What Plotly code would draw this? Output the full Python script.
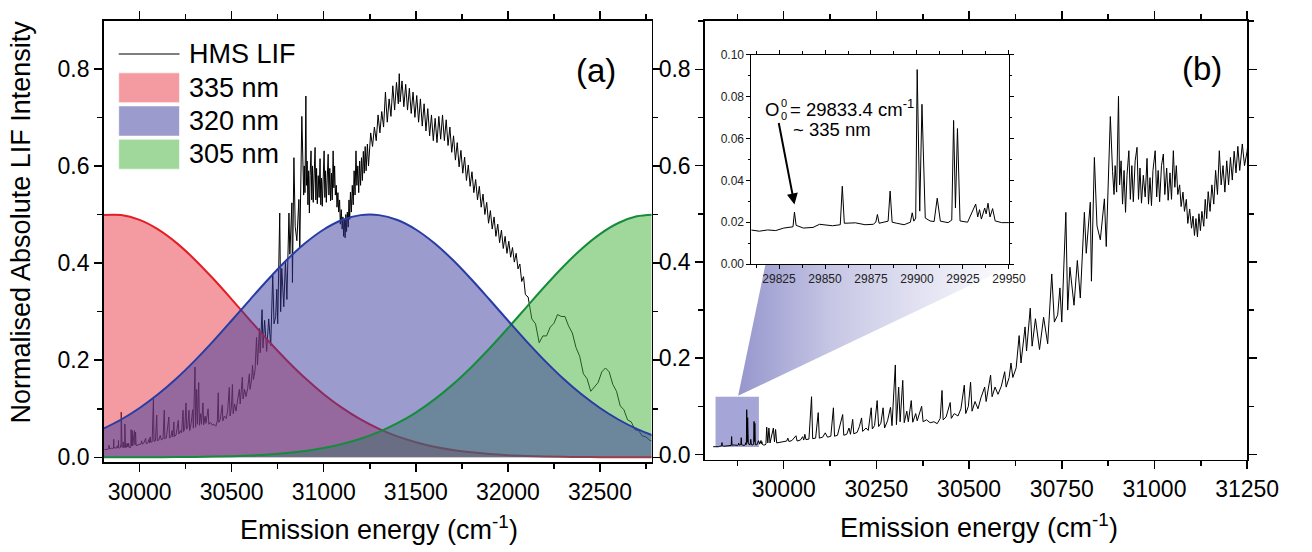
import plotly.graph_objects as go

FONT = "Liberation Sans, Arial, sans-serif"
W, H = 1312, 552

# ---------------- data ----------------
# HMS LIF spectrum, fine structure near the origin (inset region)
inset_energy = [29809.6, 29814.3, 29818.8, 29823.2, 29827.6, 29831.1, 29832.6, 29833.4, 29834.3, 29838.2,
                29843.5, 29847.0, 29854.1, 29858.3, 29859.4, 29860.5, 29866.5, 29871.8, 29876.2, 29877.6,
                29878.5, 29879.4, 29881.5, 29884.3, 29885.4, 29886.5, 29889.0, 29893.0, 29896.4, 29897.4,
                29898.3, 29899.3, 29900.1, 29901.5, 29902.7, 29904.5, 29907.1, 29909.3, 29911.0, 29912.7,
                29916.9, 29918.9, 29919.9, 29920.9, 29922.0, 29923.4, 29927.5, 29931.9, 29933.0, 29934.0,
                29935.0, 29936.8, 29937.6, 29938.6, 29939.7, 29941.1, 29942.5, 29946.0, 29949.9]
inset_lif = [0.0163, 0.0157, 0.0163, 0.0160, 0.0172, 0.0175, 0.0178, 0.0248, 0.0185, 0.0172,
             0.0175, 0.0190, 0.0183, 0.0188, 0.0372, 0.0195, 0.0197, 0.0188, 0.0190, 0.0200,
             0.0237, 0.0195, 0.0200, 0.0205, 0.0349, 0.0200, 0.0195, 0.0188, 0.0200, 0.0245,
             0.0205, 0.0220, 0.0930, 0.0253, 0.0764, 0.0220, 0.0206, 0.0203, 0.0315, 0.0205,
             0.0198, 0.0210, 0.0687, 0.0268, 0.0648, 0.0206, 0.0200, 0.0287, 0.0225, 0.0260,
             0.0215, 0.0268, 0.0240, 0.0291, 0.0225, 0.0265, 0.0206, 0.0198, 0.0198]

# HMS LIF spectrum, 29950 - 30885 cm-1 (panel b)
mid_energy = [29952, 29954, 29957, 29960, 29963, 29972, 29975, 29978, 29981, 29990,
              30000, 30008, 30011, 30014, 30022, 30033, 30036, 30045, 30051, 30054,
              30057, 30060, 30068, 30075, 30078, 30086, 30093, 30096, 30105, 30112,
              30118, 30127, 30134, 30137, 30145, 30159, 30162, 30170, 30176, 30180,
              30186, 30189, 30198, 30204, 30210, 30213, 30222, 30228, 30236, 30239,
              30245, 30252, 30256, 30262, 30268, 30272, 30280, 30288, 30292, 30301,
              30304, 30310, 30314, 30321, 30325, 30332, 30336, 30344, 30348, 30356,
              30360, 30372, 30376, 30385, 30395, 30405, 30414, 30422, 30427, 30430,
              30438, 30449, 30452, 30460, 30470, 30478, 30487, 30491, 30498, 30504,
              30508, 30516, 30524, 30532, 30542, 30546, 30558, 30562, 30570, 30578,
              30587, 30596, 30600, 30608, 30613, 30618, 30627, 30635, 30640, 30651,
              30655, 30665, 30670, 30679, 30690, 30701, 30712, 30723, 30730, 30739,
              30745, 30750, 30761, 30766, 30772, 30783, 30792, 30800, 30811, 30816,
              30827, 30830, 30838, 30845, 30854, 30865, 30870, 30881]
mid_lif = [0.022, 0.057, 0.024, 0.055, 0.024, 0.055, 0.026, 0.052, 0.024, 0.025,
           0.026, 0.028, 0.034, 0.027, 0.029, 0.039, 0.028, 0.030, 0.037, 0.030,
           0.042, 0.031, 0.032, 0.120, 0.033, 0.034, 0.087, 0.034, 0.036, 0.045,
           0.036, 0.038, 0.097, 0.038, 0.040, 0.083, 0.040, 0.042, 0.055, 0.042,
           0.073, 0.043, 0.046, 0.058, 0.076, 0.048, 0.055, 0.050, 0.097, 0.053,
           0.060, 0.112, 0.058, 0.065, 0.097, 0.055, 0.070, 0.098, 0.060, 0.186,
           0.062, 0.140, 0.068, 0.154, 0.066, 0.090, 0.068, 0.112, 0.067, 0.085,
           0.070, 0.100, 0.068, 0.072, 0.066, 0.068, 0.064, 0.075, 0.133, 0.072,
           0.078, 0.108, 0.075, 0.085, 0.080, 0.095, 0.144, 0.085, 0.100, 0.150,
           0.090, 0.110, 0.095, 0.118, 0.140, 0.110, 0.165, 0.120, 0.140, 0.125,
           0.142, 0.172, 0.140, 0.160, 0.190, 0.160, 0.180, 0.247, 0.190, 0.265,
           0.215, 0.304, 0.225, 0.282, 0.218, 0.285, 0.230, 0.375, 0.275, 0.290,
           0.346, 0.275, 0.503, 0.300, 0.389, 0.310, 0.403, 0.325, 0.503, 0.418,
           0.524, 0.360, 0.617, 0.475, 0.446, 0.531, 0.432, 0.702]

# HMS LIF spectrum, 30885 - 31250 cm-1 (plateau band, panel b)
plateau_energy = [30887, 30891, 30894, 30898, 30903, 30906, 30910, 30914, 30918, 30922,
                  30926, 30931, 30935, 30939, 30943, 30948, 30953, 30957, 30961, 30965,
                  30970, 30975, 30980, 30984, 30988, 30992, 30996, 31002, 31006, 31010,
                  31014, 31019, 31024, 31028, 31033, 31037, 31042, 31046, 31051, 31055,
                  31059, 31063, 31068, 31072, 31077, 31081, 31086, 31090, 31095, 31100,
                  31104, 31108, 31112, 31116, 31120, 31124, 31128, 31133, 31137, 31141,
                  31145, 31150, 31155, 31160, 31165, 31170, 31175, 31180, 31185, 31190,
                  31195, 31200, 31205, 31210, 31215, 31220, 31225, 31230, 31237, 31243,
                  31250]
plateau_lif = [0.588, 0.540, 0.600, 0.545, 0.744, 0.560, 0.610, 0.520, 0.590, 0.503,
               0.580, 0.631, 0.530, 0.600, 0.525, 0.610, 0.638, 0.530, 0.595, 0.522,
               0.580, 0.535, 0.615, 0.520, 0.575, 0.517, 0.590, 0.631, 0.535, 0.590,
               0.525, 0.600, 0.624, 0.540, 0.595, 0.528, 0.585, 0.530, 0.631, 0.555,
               0.600, 0.540, 0.560, 0.515, 0.545, 0.505, 0.530, 0.480, 0.510, 0.470,
               0.495, 0.455, 0.490, 0.452, 0.500, 0.465, 0.505, 0.474, 0.530, 0.490,
               0.546, 0.505, 0.560, 0.520, 0.590, 0.540, 0.631, 0.560, 0.600, 0.545,
               0.610, 0.560, 0.617, 0.570, 0.630, 0.585, 0.640, 0.590, 0.645, 0.600,
               0.630]

# HMS LIF spectrum, 31250 - 32780 cm-1 (panel a; upper/lower edges of the noisy band)
high_energy = [31255, 31265, 31275, 31285, 31295, 31305, 31315, 31325, 31335, 31345,
               31355, 31365, 31375, 31385, 31395, 31405, 31410, 31415, 31425, 31435,
               31445, 31455, 31465, 31475, 31485, 31495, 31505, 31515, 31525, 31535,
               31545, 31555, 31565, 31575, 31585, 31595, 31605, 31615, 31625, 31635,
               31645, 31655, 31665, 31675, 31685, 31695, 31705, 31715, 31725, 31735,
               31745, 31755, 31765, 31775, 31785, 31795, 31805, 31815, 31825, 31835,
               31845, 31855, 31865, 31875, 31885, 31895, 31905, 31915, 31925, 31935,
               31945, 31955, 31965, 31975, 31985, 31995, 32005, 32015, 32025, 32035,
               32045, 32055, 32065, 32075, 32085, 32095, 32110, 32130, 32150, 32170,
               32190, 32210, 32230, 32250, 32270, 32290, 32310, 32330, 32350, 32370,
               32390, 32410, 32430, 32450, 32470, 32490, 32510, 32530, 32550, 32570,
               32590, 32610, 32630, 32650, 32670, 32690, 32710, 32730, 32750, 32770,
               32780]
high_lif = [0.668, 0.640, 0.680, 0.652, 0.705, 0.668, 0.712, 0.680, 0.752, 0.690,
            0.738, 0.702, 0.765, 0.715, 0.772, 0.728, 0.790, 0.732, 0.775, 0.722,
            0.768, 0.715, 0.760, 0.708, 0.752, 0.700, 0.745, 0.690, 0.738, 0.682,
            0.728, 0.672, 0.718, 0.662, 0.705, 0.652, 0.698, 0.648, 0.702, 0.655,
            0.705, 0.652, 0.695, 0.642, 0.680, 0.628, 0.662, 0.612, 0.648, 0.598,
            0.632, 0.585, 0.618, 0.570, 0.602, 0.558, 0.588, 0.545, 0.572, 0.530,
            0.558, 0.515, 0.542, 0.500, 0.525, 0.482, 0.508, 0.470, 0.495, 0.455,
            0.480, 0.442, 0.468, 0.430, 0.455, 0.420, 0.445, 0.412, 0.432, 0.402,
            0.420, 0.388, 0.398, 0.362, 0.372, 0.335, 0.330, 0.285, 0.275, 0.236,
            0.250, 0.250, 0.268, 0.276, 0.294, 0.290, 0.290, 0.270, 0.256, 0.226,
            0.208, 0.172, 0.162, 0.136, 0.146, 0.154, 0.176, 0.184, 0.176, 0.150,
            0.136, 0.106, 0.098, 0.077, 0.073, 0.057, 0.055, 0.044, 0.042, 0.035,
            0.034]

hms_energy = inset_energy + mid_energy + plateau_energy + high_energy
hms_lif = inset_lif + mid_lif + plateau_lif + high_lif

# Excitation-laser profiles (values read every 100 cm-1)
gauss_energy = [29800, 29900, 30000, 30100, 30200, 30300, 30400, 30500, 30600, 30700,
                30800, 30900, 31000, 31100, 31200, 31300, 31400, 31500, 31600, 31700,
                31800, 31900, 32000, 32100, 32200, 32300, 32400, 32500, 32600, 32700, 32800]
g335 = [0.4987, 0.4988, 0.4888, 0.4693, 0.4416, 0.4070, 0.3676, 0.3254, 0.2821, 0.2396,
        0.1995, 0.1627, 0.1300, 0.1018, 0.0781, 0.0587, 0.0432, 0.0312, 0.0220, 0.0153,
        0.0104, 0.0069, 0.0045, 0.0029, 0.0018, 0.0011, 0.0007, 0.0004, 0.0002, 0.0001, 0.0001]
g320 = [0.0585, 0.0779, 0.1016, 0.1297, 0.1623, 0.1991, 0.2392, 0.2817, 0.3249, 0.3672,
        0.4067, 0.4412, 0.4691, 0.4886, 0.4987, 0.4987, 0.4886, 0.4691, 0.4412, 0.4067,
        0.3672, 0.3249, 0.2817, 0.2392, 0.1991, 0.1623, 0.1297, 0.1016, 0.0779, 0.0585, 0.0431]
g305 = [0.0001, 0.0001, 0.0002, 0.0003, 0.0005, 0.0009, 0.0015, 0.0024, 0.0038, 0.0059,
        0.0089, 0.0132, 0.0192, 0.0274, 0.0383, 0.0524, 0.0702, 0.0922, 0.1188, 0.1497,
        0.1850, 0.2240, 0.2657, 0.3089, 0.3518, 0.3925, 0.4291, 0.4597, 0.4825, 0.4962, 0.4999]

legend_labels = ["HMS LIF", "335 nm", "320 nm", "305 nm"]
origin_energy = 29833.4
origin_label_peak = 0.0285

# zoom window shown in the inset, and projection wedge (panel b data coordinates)
zoom_box = dict(x0=29816, x1=29933, y0=0.0155, y1=0.120)
wedge_x = [29877, 29951, 30626, 29877]
wedge_y = [0.122, 0.396, 0.396, 0.122]

# ---------------- styling ----------------
RED_FILL = "rgba(231,55,65,0.5)"
GREEN_FILL = "rgba(65,175,55,0.5)"
BLUE_FILL = "rgba(55,55,155,0.5)"
RED_LINE = "rgb(228,30,36)"
GREEN_LINE = "rgb(20,140,60)"
BLUE_LINE = "rgb(40,60,165)"


def px(x):
    return x / W


def py(y):
    return 1 - y / H


fig = go.Figure()

# panel (a)
fig.add_trace(go.Scatter(x=hms_energy, y=hms_lif, mode="lines", line=dict(color="black", width=1),
                         xaxis="x", yaxis="y", showlegend=False, hoverinfo="skip"))
fig.add_trace(go.Scatter(x=gauss_energy, y=g335, mode="lines", fill="tozeroy", fillcolor=RED_FILL,
                         line=dict(color=RED_LINE, width=2, shape="spline"), xaxis="x", yaxis="y",
                         showlegend=False))
fig.add_trace(go.Scatter(x=gauss_energy, y=g305, mode="lines", fill="tozeroy", fillcolor=GREEN_FILL,
                         line=dict(color="rgba(0,0,0,0)", width=0, shape="spline"), xaxis="x", yaxis="y",
                         showlegend=False))
fig.add_trace(go.Scatter(x=gauss_energy, y=g320, mode="lines", fill="tozeroy", fillcolor=BLUE_FILL,
                         line=dict(color="rgba(0,0,0,0)", width=0, shape="spline"), xaxis="x", yaxis="y",
                         showlegend=False))
fig.add_trace(go.Scatter(x=gauss_energy, y=g305, mode="lines",
                         line=dict(color=GREEN_LINE, width=2, shape="spline"), xaxis="x", yaxis="y",
                         showlegend=False))
fig.add_trace(go.Scatter(x=gauss_energy, y=g320, mode="lines",
                         line=dict(color=BLUE_LINE, width=2, shape="spline"), xaxis="x", yaxis="y",
                         showlegend=False))

# panel (b)
fig.add_trace(go.Scatter(x=wedge_x, y=wedge_y, mode="none", fill="toself",
                         fillgradient=dict(type="horizontal",
                                           colorscale=[[0, "rgb(150,150,205)"], [0.35, "rgb(200,200,230)"],
                                                       [1, "rgb(255,255,255)"]]),
                         xaxis="x2", yaxis="y2", showlegend=False, hoverinfo="skip"))
fig.add_trace(go.Scatter(x=hms_energy, y=hms_lif, mode="lines", line=dict(color="black", width=1),
                         xaxis="x2", yaxis="y2", showlegend=False, hoverinfo="skip"))
# inset
fig.add_trace(go.Scatter(x=hms_energy, y=hms_lif, mode="lines", line=dict(color="black", width=1),
                         xaxis="x3", yaxis="y3", showlegend=False, hoverinfo="skip"))


def axis(**kw):
    base = dict(showline=True, linecolor="black", linewidth=1.5, mirror="allticks", ticks="outside",
                ticklen=8, tickwidth=1.5, tickcolor="black", showgrid=False, zeroline=False,
                tickfont=dict(family=FONT, size=23, color="black"), fixedrange=True)
    base.update(kw)
    return base


minor_main = dict(ticks="outside", ticklen=5, tickwidth=1.5, tickcolor="black")
minor_inset = dict(ticks="outside", ticklen=2.5, tickwidth=1, tickcolor="black")
inset_font = dict(family=FONT, size=12, color="#222")

fig.update_layout(
    width=W, height=H, autosize=False,
    margin=dict(l=0, r=0, t=0, b=0),
    paper_bgcolor="white", plot_bgcolor="white",
    showlegend=False,
    xaxis=axis(domain=[px(106.2), px(667.8)], range=[29804.5, 32780], tick0=30000, dtick=500, tickformat="d",
               minor=dict(dtick=250, **minor_main), anchor="y"),
    yaxis=axis(domain=[py(468.2), py(14.1)], range=[-0.0106, 0.899], tick0=0, dtick=0.2, tickformat=".1f",
               minor=dict(dtick=0.1, **minor_main), anchor="x"),
    xaxis2=axis(domain=[px(722.4), px(1278.3)], range=[29787, 31250], tick0=30000, dtick=250, tickformat="d",
                minor=dict(dtick=125, **minor_main), anchor="y2"),
    yaxis2=axis(domain=[py(465.3), py(14.1)], range=[-0.0107, 0.901], tick0=0, dtick=0.2, tickformat=".1f",
                minor=dict(dtick=0.1, **minor_main), anchor="x2"),
    xaxis3=axis(domain=[px(770.2), px(1034.2)], range=[29810, 29950], tick0=29825, dtick=25, tickformat="d",
                minor=dict(dtick=12.5, **minor_inset), anchor="y3", linewidth=1, tickwidth=1, ticklen=4,
                tickfont=inset_font),
    yaxis3=axis(domain=[py(264.2), py(49.3)], range=[0, 0.1], tick0=0, dtick=0.02, tickformat=".2f",
                minor=dict(dtick=0.01, **minor_inset), anchor="x3", linewidth=1, tickwidth=1, ticklen=4,
                tickfont=inset_font),
)

shapes = []
# zoom window in panel (b)
shapes.append(dict(type="rect", xref="x2", yref="y2", layer="below", line=dict(width=0),
                   fillcolor="rgb(165,165,215)", **zoom_box))
# custom legend for panel (a)
shapes.append(dict(type="line", xref="paper", yref="paper", x0=px(121.7), x1=px(184), y0=py(48.3), y1=py(48.3),
                   line=dict(color="#555", width=1.5)))
legend_boxes = [(67.7, 98.3, "rgb(243,155,160)"), (101.7, 132.7, "rgb(155,155,205)"),
                (136.0, 166.7, "rgb(160,215,155)")]
for top, bot, col in legend_boxes:
    shapes.append(dict(type="rect", xref="paper", yref="paper", x0=px(121.7), x1=px(184), y0=py(bot), y1=py(top),
                       fillcolor=col, line=dict(color="rgba(255,255,255,0.6)", width=1)))
fig.update_layout(shapes=shapes)


def label(text, x, y, size, xanchor="center", **kw):
    return dict(text=text, x=px(x), y=py(y), xref="paper", yref="paper", xanchor=xanchor, yanchor="middle",
                showarrow=False, borderpad=0, font=dict(family=FONT, size=size, color="black"), **kw)


ann = []
for lab, yc in zip(legend_labels, [48.3, 83.3, 117.0, 151.0]):
    ann.append(label(lab, 192.7, yc, 27, xanchor="left"))
ann.append(label("(a)", 611, 65, 33))
ann.append(label("(b)", 1232, 63, 33))
ann.append(label("Emission energy (cm<sup>-1</sup>)", 388, 536, 27))
ann.append(label("Emission energy (cm<sup>-1</sup>)", 1003, 534, 27))
ann.append(label("Normalised Absolute LIF Intensity", 22, 221, 27, textangle=-90))
# inset label and arrow
ann.append(label("O", 791.5, 105.5, 18.5))
ann.append(label("0", 803.5, 99, 11))
ann.append(label("0", 803.5, 112.5, 11))
ann.append(label("= 29833.4 cm<sup>-1</sup>", 808.5, 104, 18.5, xanchor="left"))
ann.append(label("~ 335 nm", 811.7, 126, 18.5, xanchor="left"))
ann.append(dict(text="", x=origin_energy, y=origin_label_peak, xref="x3", yref="y3", showarrow=True,
                ax=-16, ay=-83, arrowhead=2, arrowsize=1.1, arrowwidth=2, arrowcolor="black"))
fig.update_layout(annotations=ann)

fig.write_html("out.html", config={"displayModeBar": False, "staticPlot": True},
               post_script="document.body.style.margin='0px';")
